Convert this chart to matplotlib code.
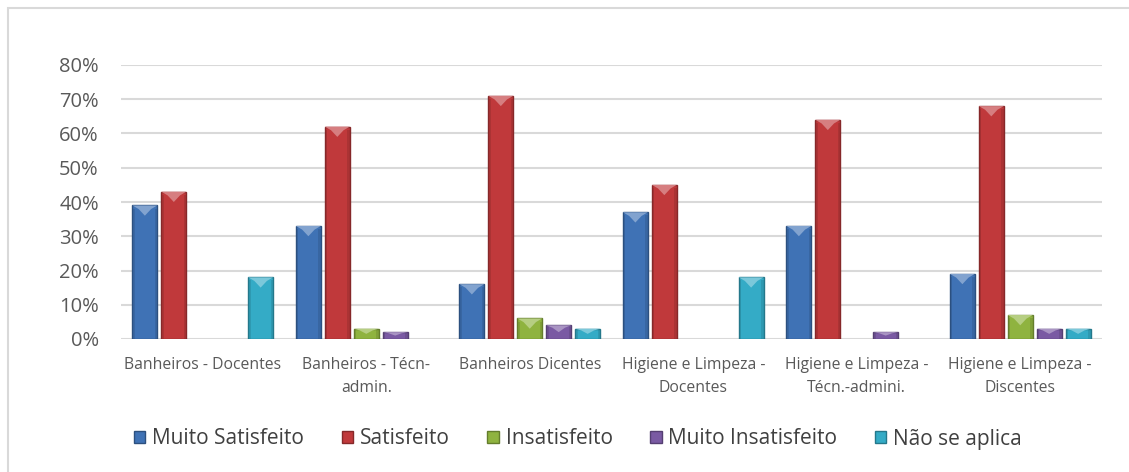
import matplotlib
matplotlib.use("Agg")
import matplotlib.pyplot as plt
from matplotlib.patches import Polygon, Rectangle
from matplotlib.ticker import PercentFormatter
from matplotlib import colors as mcolors
import numpy as np

categories = ["Banheiros - Docentes", "Banheiros - Técn-\nadmin.", "Banheiros Dicentes",
              "Higiene e Limpeza -\nDocentes", "Higiene e Limpeza -\nTécn.-admini.",
              "Higiene e Limpeza -\nDiscentes"]
series_names = ["Muito Satisfeito", "Satisfeito", "Insatisfeito", "Muito Insatisfeito", "Não se aplica"]
muito_satisfeito = [39, 33, 16, 37, 33, 19]
satisfeito = [43, 62, 71, 45, 64, 68]
insatisfeito = [0, 3, 6, 0, 0, 7]
muito_insatisfeito = [0, 2, 4, 0, 2, 3]
nao_se_aplica = [18, 0, 3, 18, 0, 3]
yticks = [0, 10, 20, 30, 40, 50, 60, 70, 80]

series = [muito_satisfeito, satisfeito, insatisfeito, muito_insatisfeito, nao_se_aplica]
base_colors = ["#3f72b5", "#c0393b", "#8fb33f", "#7a5aa3", "#34abc6"]

plt.rcParams['font.family'] = ['Open Sans', 'DejaVu Sans']

fig = plt.figure(figsize=(11.29, 4.72), dpi=100)
W, H = 1129, 472
ax = fig.add_axes([121 / W, 1 - 339 / H, (1102 - 121) / W, (339 - 65) / H])

# outer border
fig.patches.append(Rectangle((8 / W, -0.05), 1.2, 1 - 8 / H + 0.05, transform=fig.transFigure,
                             fill=False, edgecolor="#d9d9d9", linewidth=1.5, zorder=0))

n_groups = len(categories)
n_series = len(series)
x = np.arange(n_groups)
slot = 0.177
bw = 0.153

for si, (vals, c) in enumerate(zip(series, base_colors)):
    offs = (si - (n_series - 1) / 2) * slot
    rgb = np.array(mcolors.to_rgb(c))
    dark = tuple(rgb * 0.7)
    light = tuple(rgb + (1 - rgb) * 0.35)
    for gi, v in enumerate(vals):
        if v <= 0:
            continue
        xc = x[gi] + offs
        ax.bar(xc, v, width=bw, color=c, edgecolor=dark, linewidth=1.0, zorder=3)
        depth = min(3.0, v * 0.5)
        tri = Polygon([(xc - bw / 2, v), (xc + bw / 2, v), (xc + bw / 2 - bw * 0.25, v - depth * 0.35),
                       (xc, v - depth), (xc - bw / 2 + bw * 0.25, v - depth * 0.35)],
                      closed=True, facecolor=light, edgecolor="none", zorder=4)
        ax.add_patch(tri)
        # side shading
        ax.add_patch(Rectangle((xc - bw / 2, 0), bw * 0.1, v - depth * 0.3, facecolor=dark, alpha=0.35,
                               edgecolor="none", zorder=4))
        ax.add_patch(Rectangle((xc + bw / 2 - bw * 0.1, 0), bw * 0.1, v - depth * 0.3, facecolor=dark,
                               alpha=0.35, edgecolor="none", zorder=4))

ax.set_xlim(-0.5, n_groups - 0.5)
ax.set_ylim(0, 80)
ax.set_yticks(yticks)
ax.yaxis.set_major_formatter(PercentFormatter(decimals=0))
ax.grid(axis="y", color="#d9d9d9", linewidth=1.5, zorder=0)
ax.set_axisbelow(True)
for s in ax.spines.values():
    s.set_visible(False)
ax.tick_params(axis="y", length=0, pad=16, labelsize=14.5, labelcolor="#595959")
ax.set_xticks(x)
ax.set_xticklabels(categories, fontsize=11.3, color="#595959", linespacing=1.55)
ax.tick_params(axis="x", length=0, pad=13)

handles = [Rectangle((0, 0), 1, 1, facecolor=c, edgecolor=tuple(np.array(mcolors.to_rgb(c)) * 0.7))
           for c in base_colors]
fig.legend(handles, series_names, loc="center", bbox_to_anchor=(578 / W, 1 - 439 / H), ncol=5,
           frameon=False, fontsize=15, handlelength=0.55, handleheight=0.55, handletextpad=0.33,
           columnspacing=1.8, labelcolor="#404040")

fig.savefig("out.png", dpi=100, facecolor="white")
